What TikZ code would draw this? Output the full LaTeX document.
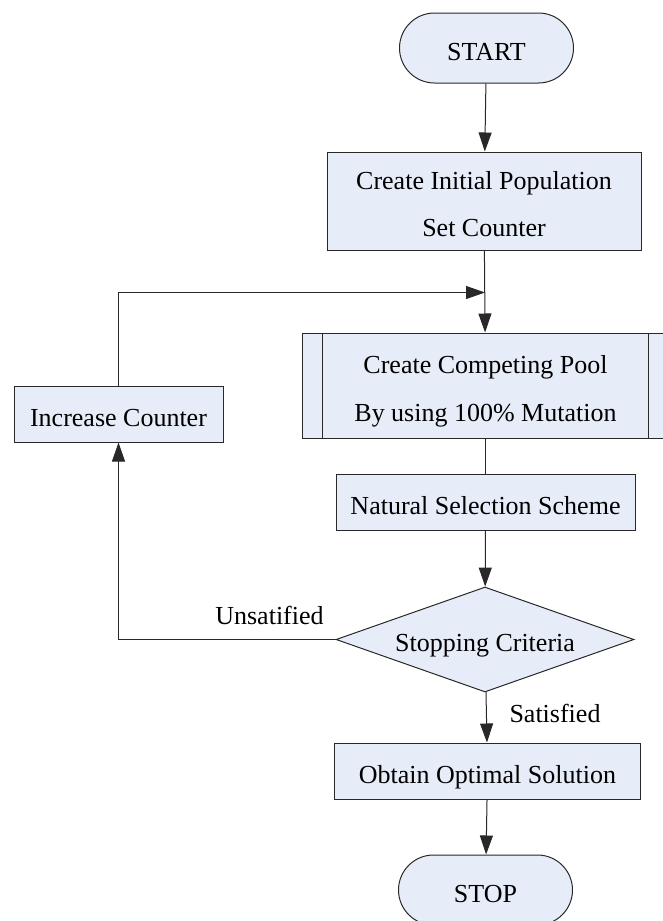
\documentclass[tikz,border=0pt]{standalone}
\usepackage{fontspec}
\setmainfont{Liberation Serif}
\usetikzlibrary{shapes.geometric,shapes.misc,arrows.meta,calc}
\definecolor{boxfill}{RGB}{231,237,248}
\definecolor{edge}{RGB}{40,40,40}
\begin{document}
\begin{tikzpicture}[x=1pt,y=-1pt,
  every node/.style={font=\fontsize{26}{47.5}\selectfont},
  shapebox/.style={draw=edge, fill=boxfill, line width=1pt, inner sep=0pt,
    text height=26pt, text depth=2pt},
  proc/.style={shapebox, rectangle},
  term/.style={shapebox, rounded rectangle, minimum width=174pt, minimum height=70pt},
  decision/.style={shapebox, diamond, aspect=2.84},
  twoline/.style={align=center, text height=73.5pt, text depth=2pt},
  flow/.style={draw=edge, line width=1pt, -{Triangle[length=19pt,width=13pt]}},
  plain/.style={draw=edge, line width=1pt},
  lbl/.style={anchor=base, inner sep=0pt}]
\useasboundingbox (0,0) rectangle (662,921);

% process chain
\node[term] (start) at (486.5,48) {START};
\node[proc, twoline, minimum width=314pt, minimum height=98pt] (init) at (484,201)
  {Create Initial Population\\Set Counter};
\node[proc, twoline, minimum width=367pt, minimum height=105pt] (pool) at (485.5,385.5)
  {Create Competing Pool\\By using 100\% Mutation};
\draw[plain] ([xshift=21pt]pool.north west) -- ([xshift=21pt]pool.south west);
\draw[plain] ([xshift=-21pt]pool.north east) -- ([xshift=-21pt]pool.south east);
\node[proc, minimum width=299pt, minimum height=56pt] (select) at (485.5,502)
  {Natural Selection Scheme};
\node[decision, minimum width=298pt, minimum height=105pt] (crit) at (485,639.5)
  {Stopping Criteria};
\node[proc, minimum width=209pt, minimum height=56pt] (incr) at (118.5,414)
  {Increase Counter};
\node[proc, minimum width=306pt, minimum height=56pt] (best) at (487.5,771)
  {Obtain Optimal Solution};
\node[term] (stop) at (485.5,890) {STOP};

% connectors
\coordinate (merge) at (485,292.5);
\draw[flow] (start) -- (init);
\draw[flow] (init) -- (pool);
\draw[flow] (incr.north) |- (merge);
\draw[plain] (pool) -- (select);
\draw[flow] (select) -- (crit);
\draw[flow] (crit.west) -| (incr.south);
\draw[flow] (crit) -- (best);
\draw[flow] (best) -- (stop);

% branch labels
\node[lbl] (unsat) at (269.5,624) {Unsatified};
\node[lbl] (sat) at (555,722) {Satisfied};
\end{tikzpicture}
\end{document}
